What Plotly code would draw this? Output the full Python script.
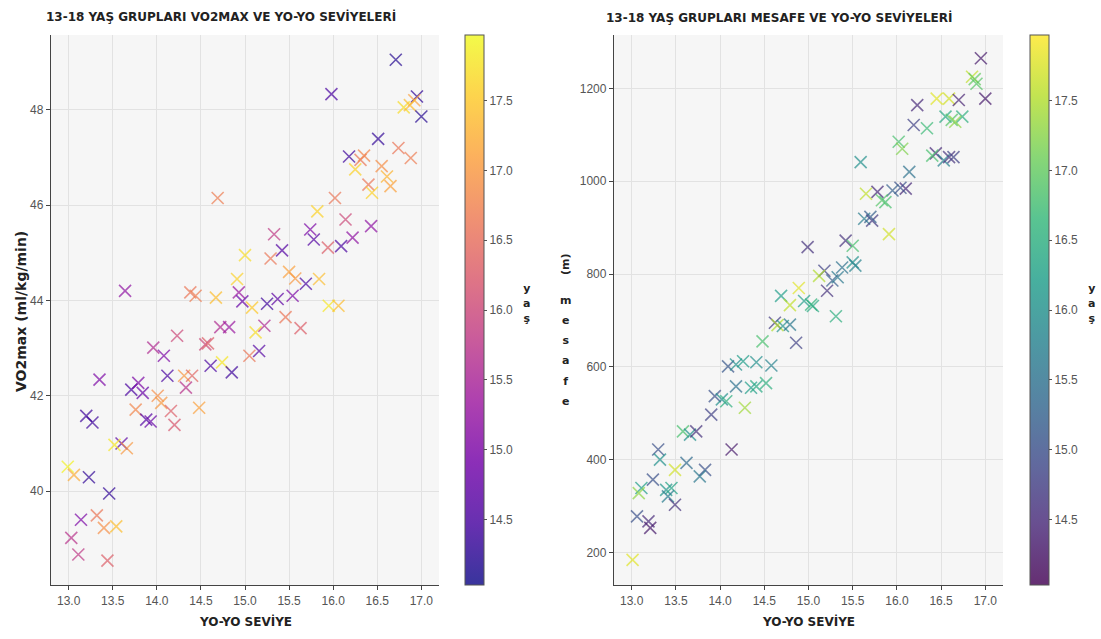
import plotly.graph_objects as go
import plotly.colors as pc

# ---------------- Left chart: VO2max vs Yo-Yo level, coloured by age ----------------
yoyo_left = [16.71, 15.98, 16.95, 16.92, 16.80, 16.87, 17.00, 16.51, 16.74, 16.88,
             16.18, 16.31, 16.35, 16.25, 16.55, 16.61, 16.65, 16.40, 16.44, 14.69,
             16.02, 15.82, 16.14, 16.43, 15.74, 15.78, 16.22, 15.33, 15.94, 16.09,
             15.42, 15.00, 15.29, 15.50, 15.57, 15.69, 15.84, 14.91, 13.64, 14.38,
             14.44, 14.93, 14.67, 14.97, 15.25, 15.37, 15.54, 15.95, 16.06, 15.08,
             15.46, 15.63, 14.72, 14.82, 15.12, 15.22, 14.55, 14.58, 14.23, 13.96,
             14.08, 14.12, 14.31, 14.40, 14.33, 14.61, 14.74, 14.85, 15.05, 15.16,
             14.48, 14.01, 14.05, 14.16, 14.20, 13.35, 13.71, 13.79, 13.84, 13.76,
             13.88, 13.93, 13.20, 13.27, 13.60, 13.66, 13.52, 12.99, 13.06, 13.23,
             13.46, 13.14, 13.32, 13.40, 13.54, 13.03, 13.11, 13.44]
vo2max = [49.05, 48.33, 48.28, 48.20, 48.05, 48.10, 47.86, 47.39, 47.20, 46.99,
          47.02, 46.95, 47.04, 46.75, 46.82, 46.60, 46.40, 46.43, 46.26, 46.15,
          46.15, 45.87, 45.70, 45.56, 45.49, 45.28, 45.32, 45.39, 45.11, 45.14,
          45.05, 44.95, 44.88, 44.60, 44.46, 44.35, 44.45, 44.45, 44.20, 44.17,
          44.10, 44.17, 44.06, 43.98, 43.93, 44.03, 44.10, 43.89, 43.89, 43.85,
          43.65, 43.42, 43.44, 43.44, 43.33, 43.47, 43.08, 43.10, 43.26, 43.01,
          42.84, 42.42, 42.42, 42.42, 42.17, 42.63, 42.70, 42.49, 42.84, 42.94,
          41.75, 42.00, 41.85, 41.68, 41.39, 42.34, 42.13, 42.27, 42.06, 41.71,
          41.50, 41.46, 41.58, 41.44, 41.00, 40.90, 40.97, 40.51, 40.34, 40.29,
          39.95, 39.40, 39.49, 39.23, 39.26, 39.02, 38.67, 38.54]
age_left = [14.2, 14.5, 14.3, 17.1, 17.7, 17.4, 14.2, 14.3, 16.6, 16.7,
            14.4, 16.6, 16.8, 17.6, 16.9, 17.3, 17.1, 16.6, 17.6, 16.7,
            16.6, 17.6, 16.0, 15.2, 15.0, 14.6, 15.2, 15.8, 16.3, 14.5,
            14.6, 17.7, 16.6, 17.1, 17.0, 14.5, 17.4, 17.6, 15.2, 16.6,
            16.7, 15.3, 17.4, 14.8, 14.4, 14.7, 15.0, 17.8, 17.4, 17.5,
            16.6, 16.3, 15.6, 15.3, 17.7, 15.6, 16.0, 16.3, 16.0, 15.6,
            15.0, 14.5, 17.0, 16.4, 15.7, 14.5, 17.8, 14.4, 16.6, 14.6,
            17.1, 16.9, 17.0, 16.3, 16.2, 15.0, 14.5, 15.0, 14.8, 16.8,
            14.6, 14.8, 14.4, 14.4, 14.7, 17.0, 17.8, 17.9, 17.2, 14.3,
            14.3, 15.0, 16.6, 16.9, 17.4, 15.7, 15.8, 16.3]

# ---------------- Right chart: distance vs Yo-Yo level, coloured by age ----------------
yoyo_right = [16.95, 16.85, 16.88, 16.90, 17.00, 16.45, 16.59, 16.70, 16.23, 16.55,
              16.62, 16.74, 16.66, 16.19, 16.34, 16.02, 16.06, 15.59, 16.44, 16.40,
              16.53, 16.59, 16.64, 16.14, 16.10, 16.04, 15.95, 15.78, 15.65, 15.83,
              15.87, 15.63, 15.72, 15.70, 15.91, 15.42, 15.50, 14.99, 15.50, 15.53,
              15.38, 15.18, 15.12, 15.27, 15.33, 15.21, 14.89, 14.69, 14.79, 14.95,
              15.03, 15.05, 15.31, 14.62, 14.65, 14.71, 14.79, 14.86, 14.48, 14.09,
              14.18, 14.26, 14.41, 14.58, 14.18, 14.35, 14.41, 14.52, 14.28, 13.94,
              14.02, 14.07, 13.90, 13.58, 13.66, 13.73, 14.13, 13.30, 13.32, 13.49,
              13.62, 13.83, 13.77, 13.24, 13.11, 13.08, 13.39, 13.45, 13.41, 13.49,
              13.06, 13.19, 13.21, 13.01]
mesafe = [1265, 1225, 1220, 1210, 1178, 1178, 1178, 1175, 1164, 1139,
          1132, 1139, 1128, 1121, 1114, 1085, 1070, 1041, 1060, 1055,
          1045, 1052, 1052, 1020, 984, 986, 980, 977, 973, 959,
          955, 919, 915, 923, 886, 872, 861, 858, 825, 818,
          814, 807, 796, 786, 793, 764, 770, 753, 733, 742,
          734, 731, 709, 695, 690, 688, 691, 652, 655, 601,
          605, 612, 610, 603, 558, 555, 558, 565, 512, 537,
          530, 526, 497, 461, 454, 461, 422, 422, 400, 378,
          393, 378, 364, 357, 339, 328, 335, 339, 321, 303,
          278, 267, 253, 184]
age_right = [14.3, 17.6, 17.0, 16.9, 14.3, 17.8, 17.7, 14.4, 14.5, 16.4,
             16.9, 16.5, 17.3, 14.8, 16.7, 16.8, 17.2, 16.0, 14.5, 16.8,
             15.8, 14.6, 14.8, 15.5, 14.5, 15.0, 15.2, 14.5, 17.6, 16.9,
             16.8, 15.7, 14.7, 15.2, 17.7, 14.6, 16.8, 14.6, 16.0, 15.8,
             15.5, 14.8, 17.5, 15.2, 15.6, 14.6, 17.8, 16.2, 17.6, 16.2,
             16.6, 16.4, 16.5, 14.7, 17.5, 16.0, 15.6, 14.8, 16.8, 15.1,
             16.0, 16.2, 16.0, 15.8, 15.5, 16.2, 16.4, 16.5, 17.4, 15.0,
             16.0, 16.5, 14.8, 16.8, 16.0, 14.6, 14.3, 15.0, 16.0, 17.7,
             15.4, 15.0, 15.6, 15.0, 16.2, 17.3, 16.1, 16.3, 15.7, 14.6,
             15.0, 14.5, 14.3, 17.8]

x_ticks = [13.0, 13.5, 14.0, 14.5, 15.0, 15.5, 16.0, 16.5, 17.0]
vo2_ticks = [40, 42, 44, 46, 48]
mesafe_ticks = [200, 400, 600, 800, 1000, 1200]
cbar_ticks = [14.5, 15.0, 15.5, 16.0, 16.5, 17.0, 17.5]
age_min, age_max = 14.03, 17.97


def faded_scale(name, alpha=0.82):
    cols = getattr(pc.sequential, name)
    n = len(cols)
    out = []
    for i, c in enumerate(cols):
        r, g, b = pc.hex_to_rgb(c)
        out.append([i / (n - 1), f"rgba({r},{g},{b},{alpha})"])
    return out


W, H = 1101, 639
def px(x): return x / W
def py(y): return 1 - y / H

tick_font = dict(family="Liberation Sans Narrow, Liberation Sans, Arial", size=12, color="#555555")
bold = "DejaVu Sans, Liberation Sans, Arial"

def colorbar(xpos):
    return dict(
        x=px(xpos), xanchor="left", y=(py(585) + py(35)) / 2, yanchor="middle",
        len=(585 - 35) / H, lenmode="fraction", thickness=19,
        outlinewidth=1, outlinecolor="#555555",
        tickvals=cbar_ticks, ticktext=[f"{v:.1f}" for v in cbar_ticks],
        ticks="outside", ticklen=3, tickcolor="#555555",
        tickfont=tick_font, xpad=0, ypad=0,
    )

fig = go.Figure()
for xs, ys, ages, cs, xa, ya, cbx in [
    (yoyo_left, vo2max, age_left, faded_scale("Plasma"), "x", "y", 465),
    (yoyo_right, mesafe, age_right, faded_scale("Viridis"), "x2", "y2", 1030),
]:
    fig.add_trace(go.Scatter(
        x=xs, y=ys, mode="markers", xaxis=xa, yaxis=ya,
        marker=dict(symbol="x-thin", size=12, color=ages, colorscale=cs,
                    cmin=age_min, cmax=age_max, opacity=0.85,
                    line=dict(width=1.6, color=ages, colorscale=cs,
                              cmin=age_min, cmax=age_max),
                    colorbar=colorbar(cbx)),
        showlegend=False, hoverinfo="x+y",
    ))

axis_common = dict(
    showline=True, linecolor="#444444", linewidth=1.3,
    ticks="outside", ticklen=4, tickcolor="#444444",
    showgrid=True, gridcolor="#e2e2e2", gridwidth=1,
    zeroline=False, tickfont=tick_font,
)

fig.update_layout(
    width=W, height=H,
    margin=dict(l=0, r=0, t=0, b=0),
    paper_bgcolor="white", plot_bgcolor="#f6f6f6",
    xaxis=dict(domain=[px(51), px(439)], range=[12.8, 17.2], anchor="y",
               tickvals=x_ticks, ticktext=[f"{v:.1f}" for v in x_ticks], **axis_common),
    yaxis=dict(domain=[py(585), py(35)], range=[38.03, 49.57], anchor="x",
               tickvals=vo2_ticks, **axis_common),
    xaxis2=dict(domain=[px(614), px(1003)], range=[12.8, 17.2], anchor="y2",
                tickvals=x_ticks, ticktext=[f"{v:.1f}" for v in x_ticks], **axis_common),
    yaxis2=dict(domain=[py(585), py(35)], range=[130, 1315], anchor="x2",
                tickvals=mesafe_ticks, **axis_common),
)

def ann(text, x, y, size, **kw):
    fig.add_annotation(text=text, x=px(x), y=py(y), xref="paper", yref="paper",
                       showarrow=False, font=dict(family=bold, size=size, color="#222222"), **kw)

def stacked(word, small):
    return "<b>" + "<br>".join(f"<span style='font-size:{small}px'>{c}</span>" for c in word) + "</b>"

ann("<b>13-18 YAŞ GRUPLARI VO2MAX VE YO-YO SEVİYELERİ</b>", 44, 16, 12,
    xanchor="left", yanchor="middle")
ann("<b>13-18 YAŞ GRUPLARI MESAFE VE YO-YO SEVİYELERİ</b>", 604, 18, 12,
    xanchor="left", yanchor="middle")

ann("<b>YO-YO SEVİYE</b>", 245, 621, 12, xanchor="center", yanchor="middle")
ann("<b>YO-YO SEVİYE</b>", 808, 621, 12, xanchor="center", yanchor="middle")

ann("<b>VO2max (ml/kg/min)</b>", 21, 312, 14, textangle=-90, xanchor="center", yanchor="middle")

ann("<b>(m)</b>", 565, 264, 11, textangle=-90, xanchor="center", yanchor="middle")
ann(stacked("mesafe", 11), 565, 351, 15.5, xanchor="center", yanchor="middle")

ann(stacked("yaş", 11), 526, 303, 11.5, xanchor="center", yanchor="middle")
ann(stacked("yaş", 11), 1091, 303, 11.5, xanchor="center", yanchor="middle")

fig.write_html("out.html", config={"displayModeBar": False},
               post_script="document.body.style.margin='0px';")
